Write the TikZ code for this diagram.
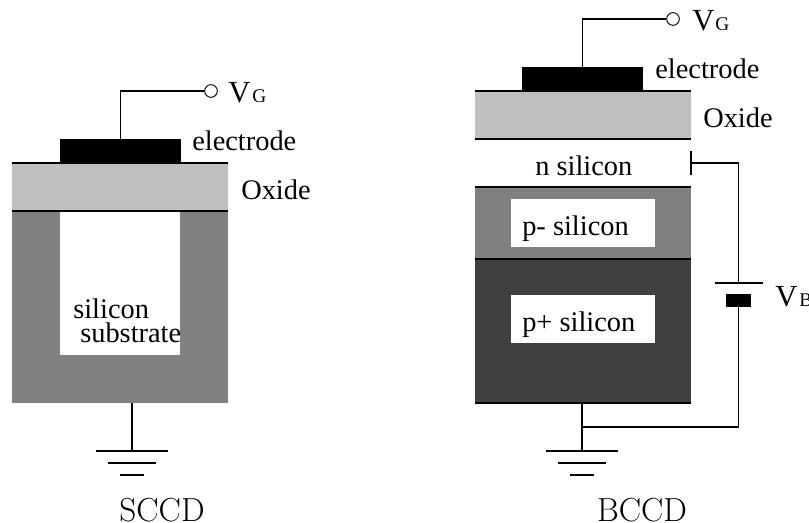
\documentclass[tikz,border=0pt]{standalone}
\usepackage{fontspec}
\setmainfont{Liberation Serif}
\newfontfamily\cmfont{Latin Modern Roman}
\tikzset{
  layer/.style={anchor=north west,inner sep=0pt,outer sep=0pt,rectangle,draw=none},
  wire/.style={draw=black,line width=0.8pt},
  plate/.style={draw=black,line width=0.9pt},
  edgeline/.style={draw=black,line width=0.9pt},
  term/.style={circle,draw=black,fill=white,line width=0.7pt,inner sep=0pt,minimum size=9.5pt},
  lab/.style={anchor=base west,inner sep=0pt,font=\fontsize{21.3}{21.3}\selectfont},
  big/.style={anchor=base west,inner sep=0pt,font=\fontsize{23}{23}\selectfont},
  small/.style={anchor=base west,inner sep=0pt,font=\fontsize{14.5}{14.5}\selectfont},
  title/.style={anchor=base,inner sep=0pt,font=\cmfont\fontsize{25}{25}\selectfont}
}
\definecolor{oxide}{gray}{0.75}
\definecolor{midgray}{gray}{0.5}
\definecolor{darkg}{gray}{0.25}
\newcommand{\lay}[6]{\node[layer,fill=#6,minimum width=#4*0.75pt,minimum height=#5*0.75pt] (#1) at (#2,#3) {};}
\begin{document}
\begin{tikzpicture}[x=0.75pt,y=-0.75pt]
\useasboundingbox (0,0) rectangle (809,523);
% SCCD
\lay{lsub}{12}{211}{216}{192}{midgray}
\lay{lwhite}{60}{211}{120}{144}{white}
\lay{lox}{12}{163}{216}{48}{oxide}
\lay{lel}{60}{139}{121}{24}{black}
\draw[edgeline] (lox.north west) -- (lox.north east);
\draw[edgeline] (lox.south west) -- (lox.south east);
\node[term] (lvg) at (211,91) {};
\coordinate (lelt) at (lel.north);
\draw[wire] (lelt) |- (lvg.west);
\coordinate (lgt) at (132,403);
\coordinate (lg1) at (132,451);
\draw[wire] (lgt) -- (lg1);
\draw[plate] (96,451) -- (168,451);
\draw[plate] (108,463) -- (156,463);
\draw[plate] (120,475) -- (144,475);
\node[big] (lvgV) at (228,103) {V};
\node[small] (lvgG) at (252,103) {G};
\node[lab] (lelL) at (192,151) {electrode};
\node[lab] (loxL) at (241,200) {Oxide};
\node[lab] (lsi) at (73,319) {silicon};
\node[lab] (lss) at (80,343) {substrate};
\node[title] (sccd) at (162,521.5) {SCCD};
% BCCD
\lay{rox}{475}{91}{216}{48}{oxide}
\lay{rel}{522}{67}{121}{24}{black}
\lay{rpm}{475}{187}{216}{72}{midgray}
\lay{rpp}{475}{259}{216}{144}{darkg}
\lay{rpmw}{511}{199}{144}{48}{white}
\lay{rppw}{511}{295}{144}{48}{white}
\draw[edgeline] (rox.north west) -- (rox.north east);
\draw[edgeline] (rox.south west) -- (rox.south east);
\draw[edgeline] (rpm.north west) -- (rpm.north east);
\draw[edgeline] (rpp.north west) -- (rpp.north east);
\draw[edgeline] (rpp.south west) -- (rpp.south east);
\node[term] (rvg) at (673,19) {};
\coordinate (relt) at (rel.north);
\draw[wire] (relt) -- ++(0,-48) -- (rvg.west);
% bias circuit
\coordinate (tap) at (691,163);
\draw[plate] (691,151) -- (691,175);
\coordinate (batTop) at (738.5,283);
\node[layer,anchor=center,fill=black,minimum width=25*0.75pt,minimum height=13*0.75pt] (batNeg) at (738.5,301) {};
\draw[plate] (715,283) -- (763,283);
\draw[wire] (tap) -| (batTop);
\coordinate (rgt) at (582,403);
\coordinate (rj) at (582,427);
\coordinate (rg1) at (582,451);
\draw[wire] (rgt) -- (rg1);
\draw[wire] (batNeg.south) |- (rj);
\draw[plate] (546,451) -- (618,451);
\draw[plate] (558,463) -- (606,463);
\draw[plate] (570,475) -- (594,475);
\node[big] (rvgV) at (692,31) {V};
\node[small] (rvgG) at (715,31) {G};
\node[big] (rvbV) at (775,307) {V};
\node[small] (rvbB) at (799,307) {B};
\node[lab] (relL) at (655,79) {electrode};
\node[lab] (roxL) at (703,128) {Oxide};
\node[lab] (rn) at (535,176) {n silicon};
\node[lab] (rpmL) at (522,236) {p- silicon};
\node[lab] (rppL) at (522,332) {p+ silicon};
\node[title] (bccd) at (642,521.5) {BCCD};
\end{tikzpicture}
\end{document}
